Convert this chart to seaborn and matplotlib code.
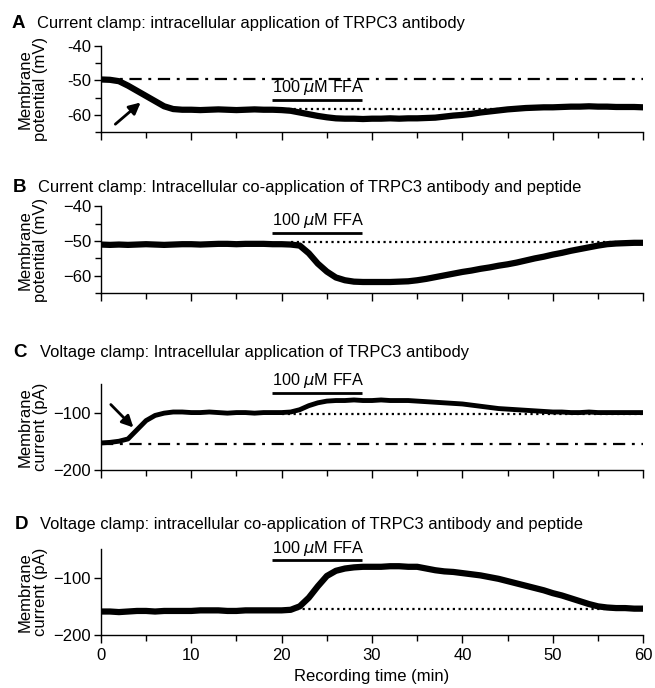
"""Whole-cell recordings: TRPC3 antibody vs antibody + peptide, FFA response."""

import matplotlib
matplotlib.use("Agg")
import matplotlib.pyplot as plt
from matplotlib.ticker import MultipleLocator
import pandas as pd
import seaborn as sns

# recording time, one reading per minute
minutes = list(range(0, 61))

# A: current clamp, antibody (mV)
trace_a = [
    -49.7, -49.8, -50.2, -51.5, -53.0, -54.5, -56.0, -57.5, -58.3, -58.5,
    -58.5, -58.6, -58.5, -58.4, -58.5, -58.6, -58.5, -58.4, -58.5, -58.5,
    -58.6, -58.8, -59.3, -59.8, -60.3, -60.7, -61.0, -61.1, -61.1, -61.2,
    -61.1, -61.1, -61.0, -61.1, -61.0, -61.0, -60.9, -60.8, -60.5, -60.2,
    -60.0, -59.7, -59.3, -59.0, -58.7, -58.4, -58.2, -58.0, -57.9, -57.8,
    -57.8, -57.7, -57.6, -57.6, -57.5, -57.6, -57.6, -57.7, -57.7, -57.7,
    -57.8,
]
# B: current clamp, antibody + peptide (mV)
trace_b = [
    -51.0, -51.1, -51.0, -51.1, -51.0, -50.9, -51.0, -51.1, -51.0, -50.9,
    -50.9, -51.0, -50.9, -50.8, -50.8, -50.9, -50.8, -50.8, -50.8, -50.9,
    -50.9, -51.0, -51.3, -53.5, -56.5, -58.8, -60.5, -61.3, -61.7, -61.8,
    -61.8, -61.8, -61.8, -61.7, -61.6, -61.3, -60.9, -60.4, -59.9, -59.4,
    -58.9, -58.5, -58.0, -57.6, -57.1, -56.7, -56.2, -55.6, -55.0, -54.5,
    -53.9, -53.4, -52.8, -52.3, -51.8, -51.3, -50.9, -50.7, -50.6, -50.5,
    -50.5,
]
# C: voltage clamp, antibody (pA)
trace_c = [
    -153, -152, -150, -146, -130, -114, -105, -101, -99, -99,
    -100, -100, -99, -100, -101, -100, -100, -101, -100, -100,
    -100, -99, -95, -88, -83, -80, -79, -79, -78, -79,
    -79, -78, -79, -79, -79, -80, -81, -82, -83, -84,
    -85, -87, -89, -91, -93, -94, -95, -96, -97, -98,
    -99, -99, -100, -100, -99, -100, -100, -100, -100, -100,
    -100,
]
# D: voltage clamp, antibody + peptide (pA)
trace_d = [
    -159, -159, -160, -159, -158, -158, -159, -158, -158, -158,
    -158, -157, -157, -157, -158, -158, -157, -157, -157, -157,
    -157, -156, -150, -135, -115, -97, -88, -84, -82, -81,
    -81, -81, -80, -80, -81, -81, -84, -87, -89, -90,
    -92, -94, -96, -99, -102, -106, -110, -114, -118, -122,
    -127, -131, -136, -141, -146, -150, -152, -153, -153, -154,
    -154,
]

panel_letters = ["A", "B", "C", "D"]
panel_titles = [
    "Current clamp: intracellular application of TRPC3 antibody",
    "Current clamp: Intracellular co-application of TRPC3 antibody and peptide",
    "Voltage clamp: Intracellular application of TRPC3 antibody",
    "Voltage clamp: intracellular co-application of TRPC3 antibody and peptide",
]
y_labels = [
    "Membrane\npotential (mV)",
    "Membrane\npotential (mV)",
    "Membrane\ncurrent (pA)",
    "Membrane\ncurrent (pA)",
]
y_limits = [(-65, -40), (-65, -40), (-200, -50), (-200, -50)]
y_ticks = [[-40, -50, -60], [-40, -50, -60], [-100, -200], [-100, -200]]

# FFA application window (min) and bar level per panel
ffa_window = [18.9, 28.9]
ffa_level = [-55.6, -47.7, -66, -70]
# dotted reference (FFA baseline): start, end, level
dotted_ref = [(20, 44, -58.3), (21, 57, -50.3), (20, 60, -103), (21, 58, -155)]
# dash-dot initial level (panels A and C only)
dashdot_ref = [-49.5, None, -155, None]
# arrows: (tail x, tail y, head x, head y)
arrows = [(1.6, -62.7, 4.4, -56.4), None, (1.1, -86, 3.6, -126), None]
trace_width = [4.5, 4.5, 3.5, 4.5]

sns.set_theme(style="ticks", rc={
    "text.color": "black",
    "axes.labelcolor": "black",
    "axes.edgecolor": "black",
    "xtick.color": "black",
    "ytick.color": "black",
})
plt.rcParams["font.family"] = ["Liberation Sans", "DejaVu Sans"]

fig = plt.figure(figsize=(6.55, 6.88), dpi=100)
axes_pos = [
    (0.154, 0.808, 0.828, 0.125),
    (0.154, 0.574, 0.828, 0.126),
    (0.154, 0.317, 0.828, 0.125),
    (0.154, 0.077, 0.828, 0.125),
]
title_y = [0.960, 0.721, 0.481, 0.231]
letter_x = [0.018, 0.020, 0.020, 0.023]
title_x = [0.056, 0.058, 0.061, 0.061]

traces = [trace_a, trace_b, trace_c, trace_d]
for i, trace in enumerate(traces):
    ax = fig.add_axes(axes_pos[i])
    df = pd.DataFrame({"time": minutes, "value": trace})

    lo, hi, lvl = dotted_ref[i]
    ax.plot([lo, hi], [lvl, lvl], color="black", lw=1.6, linestyle=(0, (1, 1.6)), zorder=1)
    if dashdot_ref[i] is not None:
        ax.plot([0, 60], [dashdot_ref[i]] * 2, color="black", lw=1.6,
                dashes=(5.5, 3, 1.3, 3), zorder=1)

    sns.lineplot(data=df, x="time", y="value", ax=ax, color="black",
                 lw=trace_width[i], zorder=3)

    ax.plot(ffa_window, [ffa_level[i]] * 2, color="black", lw=2, solid_capstyle="butt")
    ax.annotate("100 $\\mu$M FFA", xy=(ffa_window[0], ffa_level[i]),
                xytext=(0, 2), textcoords="offset points",
                fontsize=11.7, ha="left", va="bottom")

    if arrows[i] is not None:
        tx, ty, hx, hy = arrows[i]
        ax.annotate("", xy=(hx, hy), xytext=(tx, ty),
                    arrowprops=dict(arrowstyle="-|>", color="black", lw=2,
                                    mutation_scale=17, shrinkA=0, shrinkB=0))

    ax.set_xlim(0, 60)
    ax.set_ylim(*y_limits[i])
    ax.spines["top"].set_visible(False)
    ax.spines["right"].set_visible(False)
    for side in ("left", "bottom"):
        ax.spines[side].set_linewidth(1.0)
    ax.xaxis.set_major_locator(MultipleLocator(10))
    ax.xaxis.set_minor_locator(MultipleLocator(5))
    ax.tick_params(axis="x", which="major", length=6, width=1, labelsize=12, pad=3)
    ax.tick_params(axis="x", which="minor", length=4, width=1)
    ax.tick_params(axis="y", which="major", length=5, width=1, labelsize=12, pad=2)
    ax.set_yticks(y_ticks[i])
    if i < 2:
        ax.yaxis.set_minor_locator(MultipleLocator(5))
        ax.tick_params(axis="y", which="minor", length=4, width=1)
    if i == 0:
        ax.set_yticklabels([f"{t}" for t in y_ticks[i]])
    if i < 3:
        ax.set_xticklabels([])
        ax.set_xlabel("")
    else:
        ax.set_xlabel("Recording time (min)", fontsize=12, labelpad=5)
    ax.set_ylabel(y_labels[i], fontsize=12, linespacing=1.0)
    ax.yaxis.set_label_coords(-0.098, 0.5)

    fig.text(letter_x[i], title_y[i], panel_letters[i], fontsize=13.5,
             fontweight="bold", va="baseline")
    fig.text(title_x[i], title_y[i], panel_titles[i], fontsize=11.9, va="baseline")

fig.savefig("out.png", dpi=100)
